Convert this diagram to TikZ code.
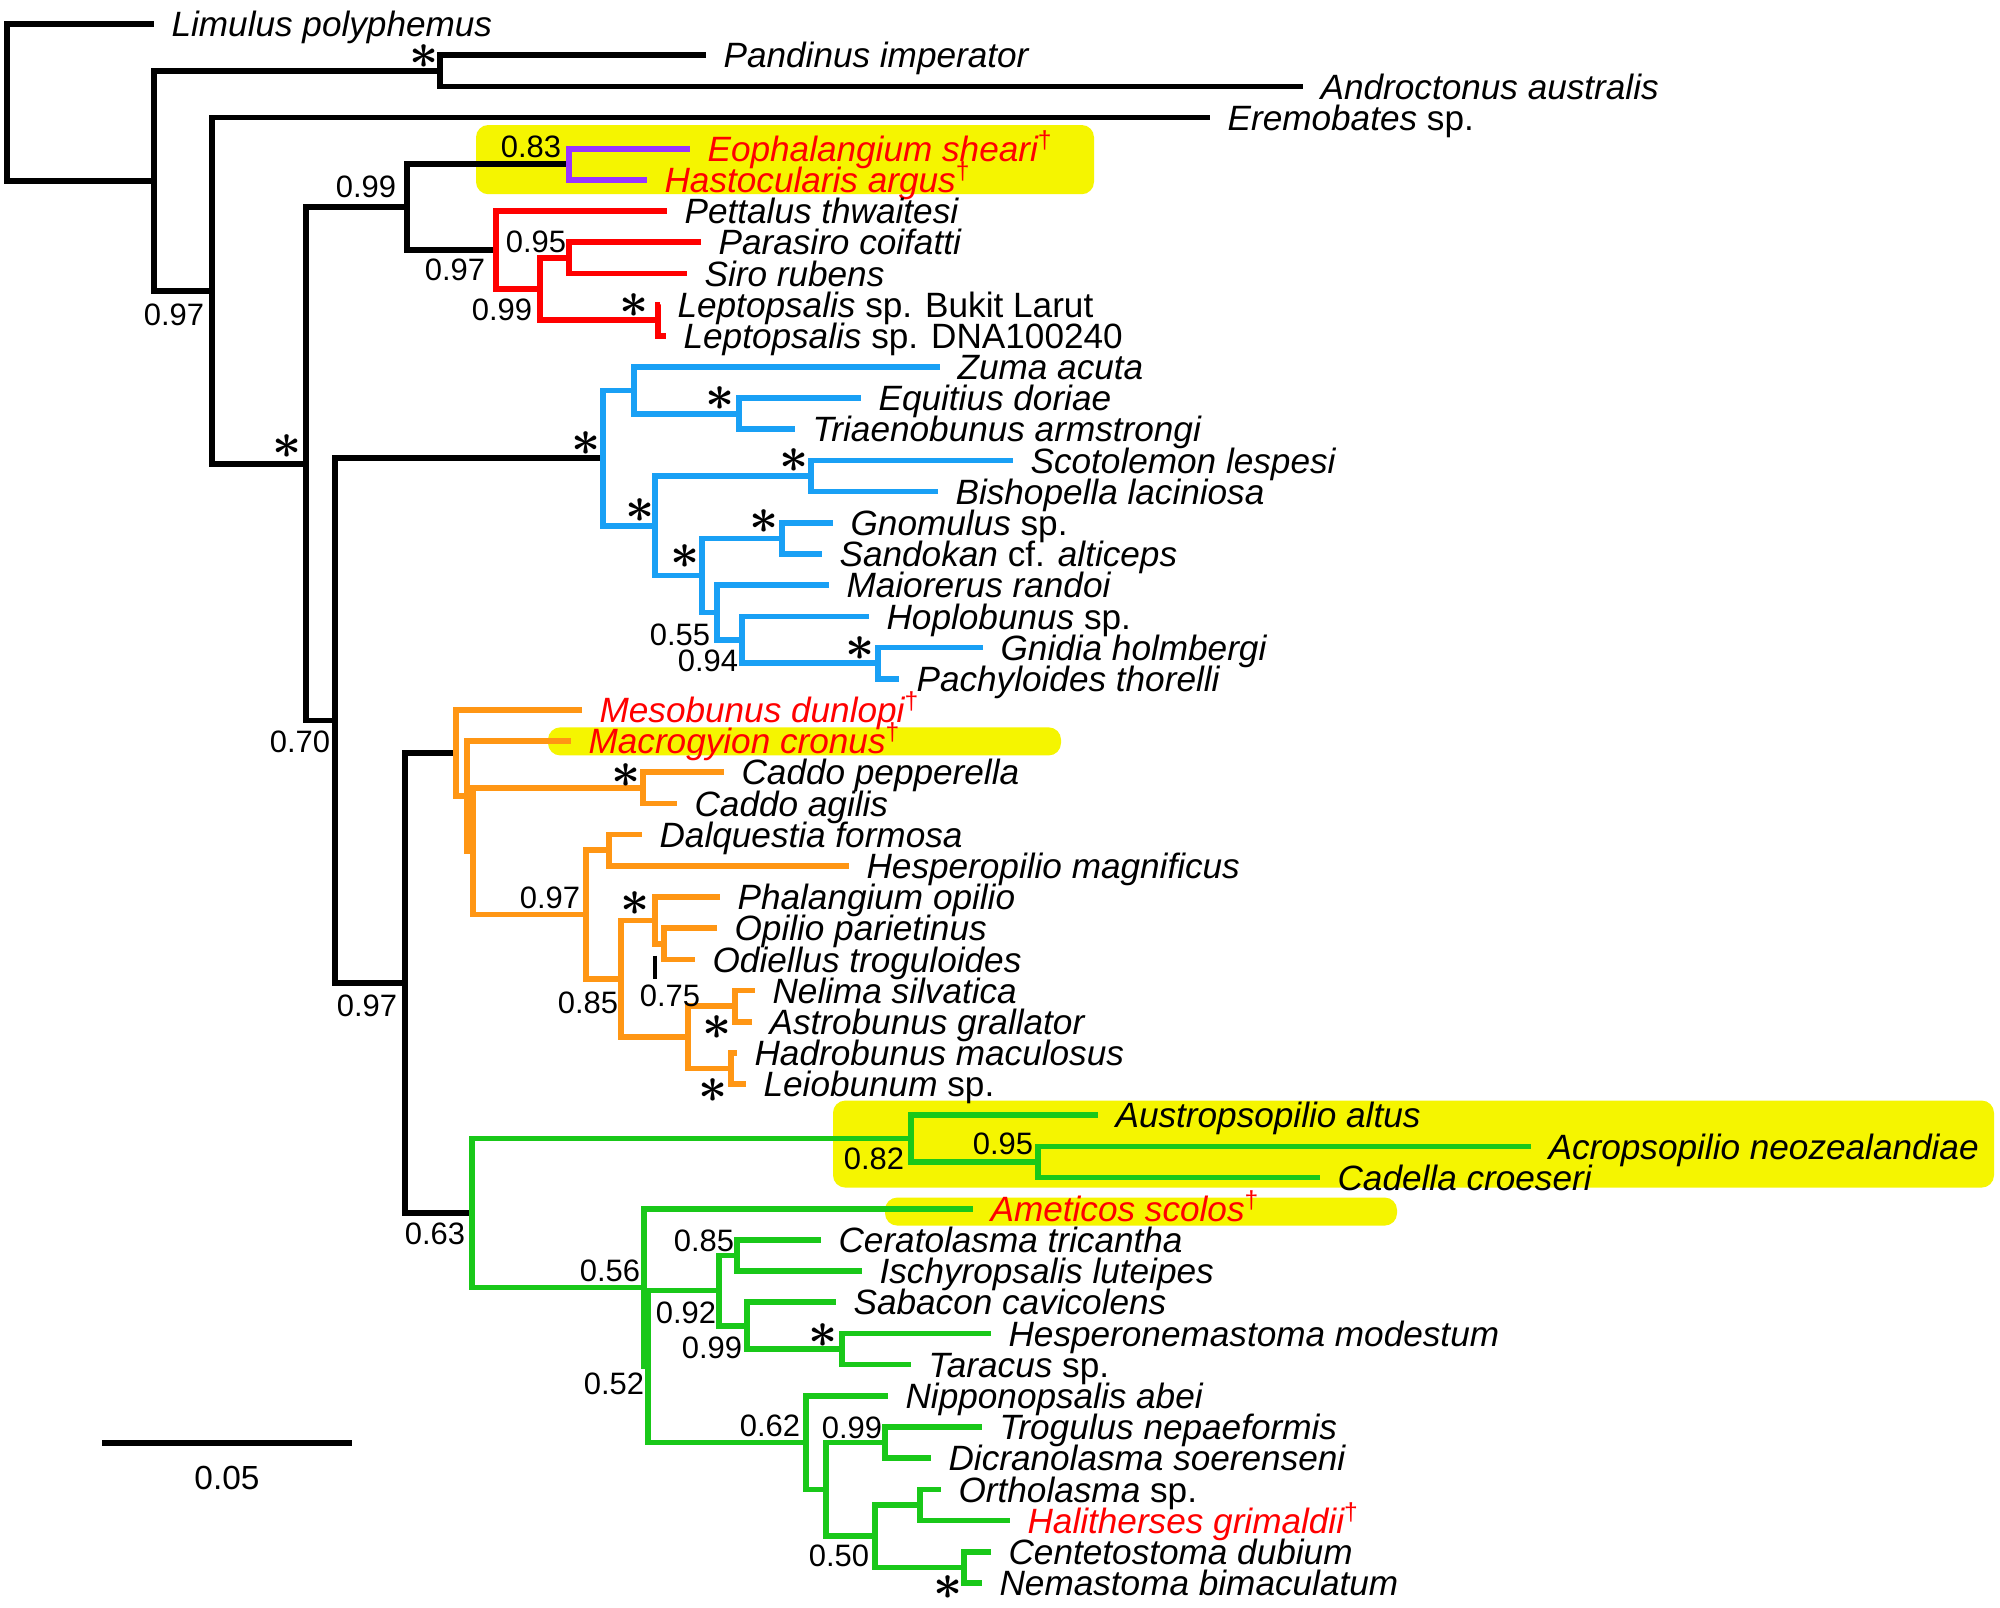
\documentclass[tikz,border=0pt]{standalone}
\usepackage{fontspec}
\setmainfont{Liberation Sans}
\definecolor{fossilred}{RGB}{255,0,0}
\definecolor{purpleclade}{RGB}{153,51,255}
\definecolor{blueclade}{RGB}{25,160,245}
\definecolor{orangeclade}{RGB}{255,150,20}
\definecolor{greenclade}{RGB}{25,200,25}
\definecolor{hiyellow}{RGB}{245,245,0}
\newcommand{\extinct}{\textsuperscript{\textup{\textdagger}}}

\begin{document}
\begin{tikzpicture}[x=0.01cm,y=-0.3116cm,line width=1.6pt,
  taxon/.style={anchor=base west,inner sep=0pt,xshift=4.2pt,yshift=-3.6pt,
    font=\fontsize{10}{12}\selectfont\itshape},
  supp/.style={inner sep=0pt,font=\fontsize{8.8}{10}\selectfont},
  star/.style={inner sep=0pt,font=\fontsize{14}{14}\selectfont\boldmath},
  hilite/.style={fill=hiyellow,rounded corners=3.5pt}]
  \fill[white] (0,-0.770) rectangle (2000,50.80);
  \useasboundingbox (0,-0.770) rectangle (2000,50.80);

  % highlighted taxa
  \fill[hilite] (476,3.24) rectangle (1094,5.46);
  \fill[hilite] (548,22.56) rectangle (1061,23.46);
  \fill[hilite] (833,34.53) rectangle (1994,37.32);
  \fill[hilite] (885,37.64) rectangle (1397,38.54);

  % leaves
  \foreach \nm/\x/\rw/\col/\txt in {
    lim/154/0/black/Limulus polyphemus,
    pan/706/1/black/Pandinus imperator,
    and/1303/2/black/Androctonus australis,
    ere/1210/3/black/Eremobates \textup{sp.},
    eop/690/4/fossilred/Eophalangium sheari\extinct,
    has/647/5/fossilred/Hastocularis argus\extinct,
    pet/667/6/black/Pettalus thwaitesi,
    par/701/7/black/Parasiro coifatti,
    sir/687/8/black/Siro rubens,
    lbk/660/9/black/Leptopsalis \textup{sp. Bukit Larut},
    ldn/666/10/black/Leptopsalis \textup{sp. DNA100240},
    zum/940/11/black/Zuma acuta,
    equ/861/12/black/Equitius doriae,
    tri/795/13/black/Triaenobunus armstrongi,
    sco/1013/14/black/Scotolemon lespesi,
    bis/938/15/black/Bishopella laciniosa,
    gno/833/16/black/Gnomulus \textup{sp.},
    san/822/17/black/Sandokan \textup{cf.} alticeps,
    mai/829/18/black/Maiorerus randoi,
    hop/869/19/black/Hoplobunus \textup{sp.},
    gni/983/20/black/Gnidia holmbergi,
    pac/899/21/black/Pachyloides thorelli,
    mes/582/22/fossilred/Mesobunus dunlopi\extinct,
    mac/571/23/fossilred/Macrogyion cronus\extinct,
    cpe/724/24/black/Caddo pepperella,
    cag/677/25/black/Caddo agilis,
    dal/642/26/black/Dalquestia formosa,
    hes/849/27/black/Hesperopilio magnificus,
    pha/720/28/black/Phalangium opilio,
    opi/717/29/black/Opilio parietinus,
    odi/695/30/black/Odiellus troguloides,
    nel/755/31/black/Nelima silvatica,
    ast/752/32/black/Astrobunus grallator,
    had/737/33/black/Hadrobunus maculosus,
    lei/746/34/black/Leiobunum \textup{sp.},
    aus/1098/35/black/Austropsopilio altus,
    acr/1531/36/black/Acropsopilio neozealandiae,
    cad/1320/37/black/Cadella croeseri,
    ame/973/38/fossilred/Ameticos scolos\extinct,
    cer/821/39/black/Ceratolasma tricantha,
    isc/862/40/black/Ischyropsalis luteipes,
    sab/836/41/black/Sabacon cavicolens,
    hsm/991/42/black/Hesperonemastoma modestum,
    tar/911/43/black/Taracus \textup{sp.},
    nip/888/44/black/Nipponopsalis abei,
    tro/982/45/black/Trogulus nepaeformis,
    dic/931/46/black/Dicranolasma soerenseni,
    ort/941/47/black/Ortholasma \textup{sp.},
    hal/1010/48/fossilred/Halitherses grimaldii\extinct,
    cen/991/49/black/Centetostoma dubium,
    nem/982/50/black/Nemastoma bimaculatum}{
    \coordinate (\nm) at (\x,\rw);
    \node[taxon,text=\col] (\nm-t) at (\nm) {\txt};
  }

  % internal nodes
  \coordinate (root) at (7,2.514);
  \coordinate (nA) at (154,5.027);
  \coordinate (nSc) at (440,1.5);
  \coordinate (nB) at (212,8.554);
  \coordinate (nC) at (306,14.108);
  \coordinate (nD) at (407,5.875);
  \coordinate (nP) at (569,4.5);
  \coordinate (nRd) at (496,7.25);
  \coordinate (nF) at (540,8.5);
  \coordinate (nG) at (569,7.5);
  \coordinate (nLp) at (658,9.5);
  \coordinate (nE) at (335,22.342);
  \coordinate (nH) at (603,13.922);
  \coordinate (nI) at (634,11.75);
  \coordinate (nJ) at (739,12.5);
  \coordinate (nK) at (655,16.094);
  \coordinate (nL) at (811,14.5);
  \coordinate (nM) at (702,17.688);
  \coordinate (nN) at (782,16.5);
  \coordinate (nO) at (717,18.875);
  \coordinate (nP2) at (742,19.75);
  \coordinate (nQ) at (878,20.5);
  \coordinate (nR) at (405,30.762);
  \coordinate (nS) at (456,23.383);
  \coordinate (nU) at (467,24.766);
  \coordinate (nV) at (473,26.531);
  \coordinate (nW) at (643,24.5);
  \coordinate (nX) at (586,28.563);
  \coordinate (nY) at (609,26.5);
  \coordinate (nZ) at (621,30.625);
  \coordinate (nAA) at (655,28.75);
  \coordinate (nAB) at (664,29.5);
  \coordinate (nAC) at (688,32.5);
  \coordinate (nAD) at (735,31.5);
  \coordinate (nAE) at (731,33.5);
  \coordinate (nT) at (472,38.141);
  \coordinate (nAF) at (911,35.75);
  \coordinate (nAG) at (1038,36.5);
  \coordinate (nAH) at (644,40.531);
  \coordinate (nAI) at (648,43.063);
  \coordinate (n92) at (719,40.625);
  \coordinate (n85) at (737,39.5);
  \coordinate (n99) at (747,41.75);
  \coordinate (nHT) at (842,42.5);
  \coordinate (n62) at (806,45.5);
  \coordinate (nL2) at (826,47);
  \coordinate (n99b) at (885,45.5);
  \coordinate (n50) at (875,48.5);
  \coordinate (nOH) at (920,47.5);
  \coordinate (nCN) at (964,49.5);

  % branches
  \foreach \pa/\ca/\cb in {root/lim/nA, nA/nSc/nB, nSc/pan/and, nB/ere/nC,
      nC/nD/nE, nD/nP/nRd, nE/nH/nR, nR/nS/nT}
    \draw (\pa) |- (\ca) (\pa) |- (\cb);
  \foreach \pa/\ca/\cb in {nP/eop/has}
    \draw[purpleclade] (\pa) |- (\ca) (\pa) |- (\cb);
  \foreach \pa/\ca/\cb in {nRd/pet/nF, nF/nG/nLp, nG/par/sir, nLp/lbk/ldn}
    \draw[fossilred] (\pa) |- (\ca) (\pa) |- (\cb);
  \foreach \pa/\ca/\cb in {nH/nI/nK, nI/zum/nJ, nJ/equ/tri, nK/nL/nM,
      nL/sco/bis, nM/nN/nO, nN/gno/san, nO/mai/nP2, nP2/hop/nQ, nQ/gni/pac}
    \draw[blueclade] (\pa) |- (\ca) (\pa) |- (\cb);
  \foreach \pa/\ca/\cb in {nS/mes/nU, nU/mac/nV, nV/nW/nX, nW/cpe/cag,
      nX/nY/nZ, nY/dal/hes, nZ/nAA/nAC, nAA/pha/nAB, nAB/opi/odi,
      nAC/nAD/nAE, nAD/nel/ast, nAE/had/lei}
    \draw[orangeclade] (\pa) |- (\ca) (\pa) |- (\cb);
  \foreach \pa/\ca/\cb in {nT/nAF/nAH, nAF/aus/nAG, nAG/acr/cad, nAH/ame/nAI,
      nAI/n92/n62, n92/n85/n99, n85/cer/isc, n99/sab/nHT, nHT/hsm/tar,
      n62/nip/nL2, nL2/n99b/n50, n99b/tro/dic, n50/nOH/nCN, nOH/ort/hal,
      nCN/cen/nem}
    \draw[greenclade] (\pa) |- (\ca) (\pa) |- (\cb);

  % support values
  \foreach \nm/\x/\rw/\v in {
    sA/174/9.34/0.97, sD/366/5.23/0.99, sP/531/3.95/0.83, sRd/455/7.89/0.97,
    sG/536/7.0/0.95, sF/502/9.18/0.99, sE/300/23.04/0.70, sO/680/19.58/0.55,
    sP2/708/20.44/0.94, sR/367/31.48/0.97, sX/550/28.02/0.97, sZ/588/31.39/0.85,
    sAB/670/31.16/0.75, sT/435/38.8/0.63, sAF/874/36.39/0.82, sAG/1003/35.91/0.95,
    sAH/610/39.99/0.56, s85/704/39.02/0.85, s92/686/41.34/0.92, s99/712/42.46/0.99,
    sAI/614/43.61/0.52, s62/770/44.96/0.62, s99b/852/45.03/0.99, s50/839/49.13/0.50}
    \node[supp] (\nm) at (\x,\rw) {\v};
  \foreach \nm/\x/\rw in {
    aSc/424/1.06, aLp/634/9.02, aC/287/13.54, aH/586/13.45, aJ/720/12.0,
    aK/640/15.6, aL/794/14.0, aN/764/15.95, aM/685/17.07, aQ/860/20.03,
    aW/626/24.1, aAA/635/28.21, aAD/717/32.19, aAE/713/34.21, aHT/823/42.07,
    aCN/948/50.16}
    \node[star] (\nm) at (\x,\rw) {$\ast$};
  \coordinate (k75) at (655,29.88);
  \coordinate (k75b) at (655,30.62);
  \draw[line width=0.9pt] (k75) -- (k75b);

  % scale bar
  \coordinate (sbl) at (102,45.51);
  \coordinate (sbr) at (352,45.51);
  \draw (sbl) -- (sbr);
  \node[supp,font=\fontsize{9.5}{11}\selectfont] (sbt) at (227,46.63) {0.05};
\end{tikzpicture}
\end{document}
